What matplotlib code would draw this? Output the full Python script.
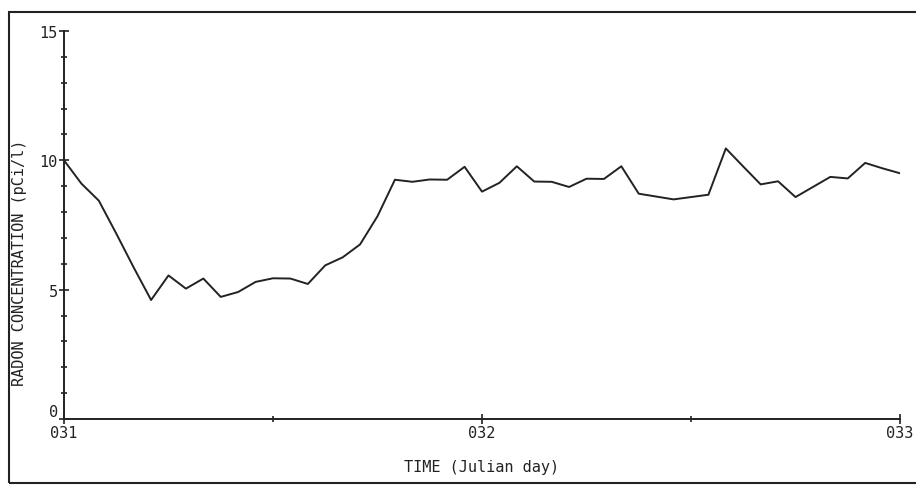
import numpy as np
import matplotlib.pyplot as plt
from matplotlib.patches import Rectangle
from matplotlib.ticker import FixedLocator, MultipleLocator, FuncFormatter

# Hourly radon readings, Julian day 031 00h through 033 00h
start_day = 31
hours = list(range(49))
radon_pci_l = [
    10.0, 9.1, 8.44, 7.17, 5.86, 4.6, 5.55, 5.04, 5.43, 4.72,
    4.91, 5.3, 5.44, 5.43, 5.22, 5.94, 6.25, 6.75, 7.84, 9.25,
    9.17, 9.26, 9.25, 9.75, 8.79, 9.13, 9.77, 9.18, 9.17, 8.97,
    9.29, 9.28, 9.77, 8.71, 8.6, 8.49, 8.58, 8.67, 10.46, 9.76,
    9.07, 9.19, 8.58, 8.97, 9.36, 9.3, 9.9, 9.69, 9.5,
]
day_ticks = [31, 32, 33]
y_ticks = [0, 5, 10, 15]

julian = start_day + np.array(hours) / 24.0

ink = "#222222"
plt.rcParams['font.family'] = ['DejaVu Sans Mono']

fig = plt.figure(figsize=(9.16, 4.89), dpi=100)
ax = fig.add_axes([64 / 916, 1 - 420 / 489, 836 / 916, 388 / 489])

ax.plot(julian, radon_pci_l, color=ink, linewidth=1.4)

ax.set_xlim(day_ticks[0], day_ticks[-1])
ax.set_ylim(y_ticks[0], y_ticks[-1])

for side in ("top", "right"):
    ax.spines[side].set_visible(False)
for side in ("left", "bottom"):
    ax.spines[side].set_color(ink)
    ax.spines[side].set_linewidth(1.4)

ax.xaxis.set_major_locator(FixedLocator(day_ticks))
ax.xaxis.set_minor_locator(MultipleLocator(0.5))
ax.xaxis.set_major_formatter(FuncFormatter(lambda v, p: "%03d" % int(round(v))))
ax.yaxis.set_major_locator(FixedLocator(y_ticks))
ax.yaxis.set_minor_locator(MultipleLocator(1))

ax.tick_params(axis="both", which="major", direction="inout", length=7,
               width=1.2, color=ink, labelcolor=ink, labelsize=11)
ax.tick_params(axis="both", which="minor", direction="inout", length=4,
               width=1.2, color=ink)
ax.tick_params(axis="x", which="major", pad=1)
ax.tick_params(axis="y", which="major", pad=1)

# the "0" sits just above the "031" at the origin
ax.get_yticklabels()[0].set_verticalalignment("bottom")

ax.set_ylabel("RADON CONCENTRATION (pCi/l)", fontsize=11, color=ink)
ax.yaxis.set_label_coords(-0.044, 0.405)
ax.set_xlabel("TIME (Julian day)", fontsize=11, color=ink)
ax.xaxis.set_label_coords(0.499, -0.103)

# outer plotter frame, open past the right edge
frame = Rectangle((9 / 916, 1 - 484 / 489), 1.2, (484 - 13) / 489,
                  transform=fig.transFigure, fill=False, edgecolor=ink,
                  linewidth=1.5, clip_on=False)
fig.patches.append(frame)

fig.savefig("out.png", dpi=100)
